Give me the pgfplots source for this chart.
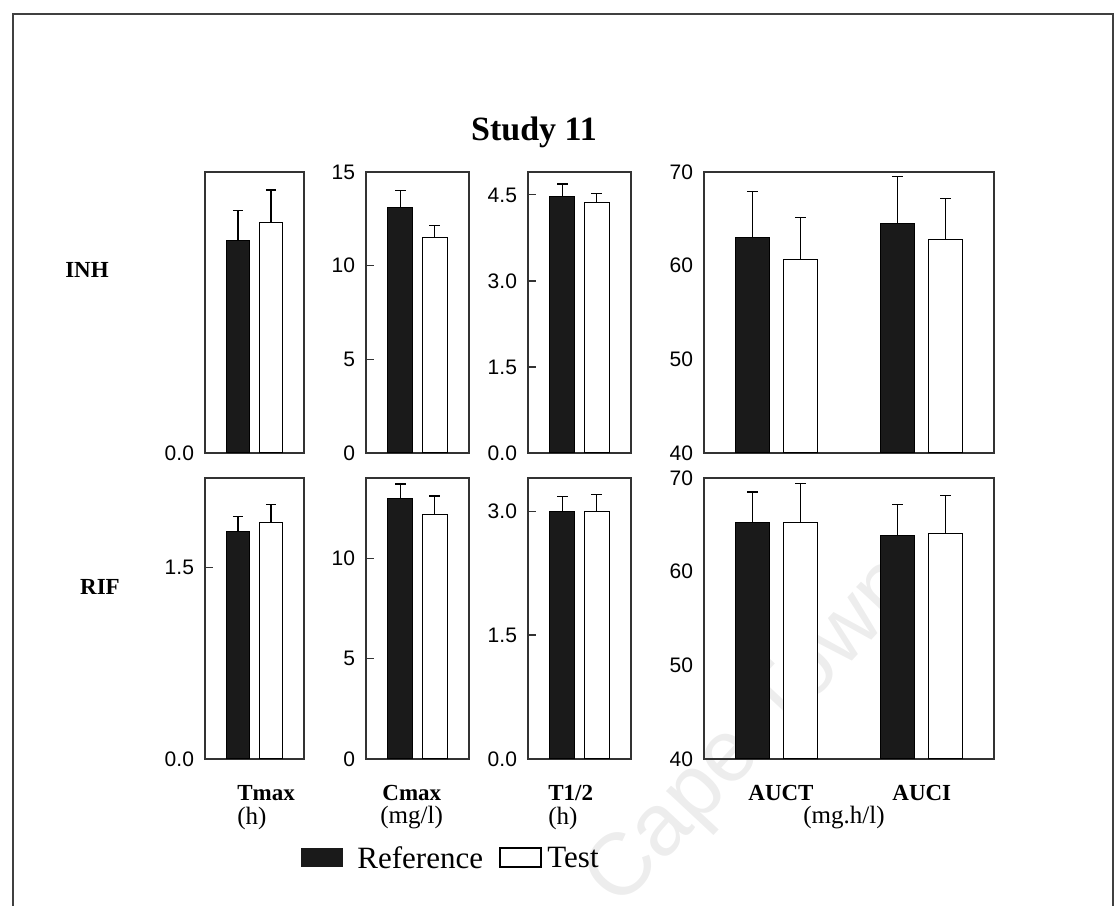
\documentclass[border=0pt]{standalone}
\usepackage{fontspec}
\setmainfont{Liberation Serif}
\newfontfamily\arial{Liberation Sans}
\usepackage{pgfplots}
\pgfplotsset{compat=1.18}

\definecolor{refbar}{HTML}{1A1A1A}
\definecolor{axisgray}{HTML}{333333}

\tikzset{txt/.style={inner sep=0pt, anchor=west}}

\pgfplotsset{
  panel/.style={
    scale only axis,
    anchor=north west,
    height=140.5pt,
    axis line style={axisgray, line width=0.55pt},
    xtick=\empty,
    ytick pos=left,
    tick align=inside,
    major tick length=4pt,
    tick style={axisgray, line width=0.55pt},
    yticklabel style={font=\arial\fontsize{10.5}{12}\selectfont, xshift=-2pt},
    xmin=0, xmax=3, ymin=0,
  },
  aucpanel/.style={
    panel, xmin=0, xmax=6, ymin=40, ymax=70,
    ytick={40,50,60,70}, yticklabels={40,50,60,70},
    major tick length=0pt,
  },
  errbars/.style={
    error bars/.cd, y dir=plus, y explicit,
    error bar style={line width=0.6pt, black},
    error mark=-,
    error mark options={rotate=90, line width=0.6pt, black, mark size=2.6pt},
  },
  refbars/.style={ybar, bar width=#1, bar shift=0pt, fill=refbar, draw=black, line width=0.5pt, errbars},
  refbars/.default=0.72,
  testbars/.style={ybar, bar width=#1, bar shift=0pt, fill=white, draw=black, line width=0.5pt, errbars},
  testbars/.default=0.72,
}

\begin{document}
\begin{tikzpicture}
\path[use as bounding box] (0,0) rectangle (558pt,453pt);

% faint watermark behind the figure
\node[rotate=47, text=black!7, font=\arial\fontsize{44}{44}\selectfont] at (377pt,86pt) {Cape Town};

% page frame
\draw[black!75, line width=1.2pt] (6.5pt,0) -- (6.5pt,446pt) -- (556.5pt,446pt) -- (556.5pt,0);

% title and row labels
\node[font=\bfseries\fontsize{17}{20}\selectfont] at (267pt,387pt) {Study 11};
\node[font=\bfseries\fontsize{11.5}{13}\selectfont] at (43.5pt,318pt) {INH};
\node[font=\bfseries\fontsize{11.5}{13}\selectfont] at (50pt,159.5pt) {RIF};

% ---------------- INH row ----------------
\begin{axis}[panel, at={(102.5pt,367pt)}, width=49.5pt, ymax=1.4,
  ytick={0}, yticklabels={0.0}]
\addplot[refbars]  coordinates {(1,1.06) +- (0,0.15)};
\addplot[testbars] coordinates {(2,1.15) +- (0,0.16)};
\end{axis}

\begin{axis}[panel, at={(183pt,367pt)}, width=51.5pt, ymax=15,
  ytick={0,5,10,15}, yticklabels={0,5,10,15}]
\addplot[refbars]  coordinates {(1,13.1) +- (0,0.9)};
\addplot[testbars] coordinates {(2,11.5) +- (0,0.65)};
\end{axis}

\begin{axis}[panel, at={(264pt,367pt)}, width=51.5pt, ymax=4.9,
  ytick={0,1.5,3,4.5}, yticklabels={0.0,1.5,3.0,4.5}]
\addplot[refbars]  coordinates {(1,4.47) +- (0,0.22)};
\addplot[testbars] coordinates {(2,4.36) +- (0,0.17)};
\end{axis}

\begin{axis}[aucpanel, at={(352pt,367pt)}, width=145pt]
\addplot[refbars=0.7]  coordinates {(1,63.0) +- (0,4.9) (4,64.5) +- (0,5.0)};
\addplot[testbars=0.7] coordinates {(2,60.7) +- (0,4.4) (5,62.8) +- (0,4.4)};
\end{axis}

% ---------------- RIF row ----------------
\begin{axis}[panel, at={(102.5pt,214pt)}, width=49.5pt, ymax=2.2,
  ytick={0,1.5}, yticklabels={0.0,1.5}]
\addplot[refbars]  coordinates {(1,1.78) +- (0,0.12)};
\addplot[testbars] coordinates {(2,1.85) +- (0,0.14)};
\end{axis}

\begin{axis}[panel, at={(183pt,214pt)}, width=51.5pt, ymax=14,
  ytick={0,5,10}, yticklabels={0,5,10}]
\addplot[refbars]  coordinates {(1,13.0) +- (0,0.7)};
\addplot[testbars] coordinates {(2,12.2) +- (0,0.9)};
\end{axis}

\begin{axis}[panel, at={(264pt,214pt)}, width=51.5pt, ymax=3.4,
  ytick={0,1.5,3}, yticklabels={0.0,1.5,3.0}]
\addplot[refbars]  coordinates {(1,2.99) +- (0,0.19)};
\addplot[testbars] coordinates {(2,3.0) +- (0,0.2)};
\end{axis}

\begin{axis}[aucpanel, at={(352pt,214pt)}, width=145pt]
\addplot[refbars=0.7]  coordinates {(1,65.2) +- (0,3.3) (4,63.9) +- (0,3.3)};
\addplot[testbars=0.7] coordinates {(2,65.3) +- (0,4.1) (5,64.1) +- (0,4.0)};
\end{axis}

% parameter names under the columns
\node[txt, font=\bfseries\fontsize{11.5}{13}\selectfont] at (118.5pt,56.5pt) {Tmax};
\node[txt, font=\fontsize{12.5}{14}\selectfont] at (118.5pt,44pt) {(h)};
\node[txt, font=\bfseries\fontsize{11.5}{13}\selectfont] at (191pt,56.5pt) {Cmax};
\node[txt, font=\fontsize{12.5}{14}\selectfont] at (190pt,44pt) {(mg/l)};
\node[txt, font=\bfseries\fontsize{11.5}{13}\selectfont] at (274pt,56.5pt) {T1/2};
\node[txt, font=\fontsize{12.5}{14}\selectfont] at (274pt,44pt) {(h)};
\node[txt, font=\bfseries\fontsize{11.5}{13}\selectfont] at (374pt,56.5pt) {AUCT};
\node[txt, font=\bfseries\fontsize{11.5}{13}\selectfont] at (446pt,56.5pt) {AUCI};
\node[txt, font=\fontsize{12.5}{14}\selectfont] at (401.5pt,44pt) {(mg.h/l)};

% legend
\fill[refbar] (150.5pt,19.5pt) rectangle (171.5pt,29pt);
\node[txt, font=\fontsize{15.5}{17}\selectfont] at (178.5pt,24pt) {Reference};
\draw[black, line width=0.7pt] (250pt,19.5pt) rectangle (270.5pt,29pt);
\node[txt, font=\fontsize{15.5}{17}\selectfont] at (273.5pt,24pt) {Test};
\end{tikzpicture}
\end{document}
